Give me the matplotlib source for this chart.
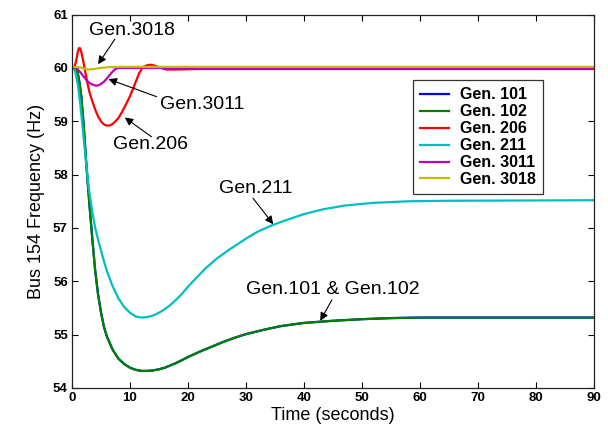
import numpy as np
import matplotlib
matplotlib.use('Agg')
import matplotlib.pyplot as plt

plt.rcParams['font.family'] = ['Liberation Sans', 'DejaVu Sans']

# values (time in s, frequency in Hz)
t_102 = [0, 0.7, 1.0, 1.3, 1.6, 2.0, 2.5, 3.0, 3.5, 4.0, 4.5, 5.0, 5.5, 6.0, 7.0, 8.0, 9.0, 10, 11, 12, 13,
         14, 15, 16, 18, 20, 22, 24, 26, 28, 30, 33, 36, 40, 45, 50, 55, 60, 90]
f_102 = [60, 59.98, 59.9, 59.72, 59.47, 58.95, 58.15, 57.45, 56.8, 56.2, 55.75, 55.42, 55.15, 54.97, 54.72,
         54.55, 54.45, 54.38, 54.34, 54.32, 54.32, 54.33, 54.35, 54.38, 54.47, 54.58, 54.68, 54.77, 54.86,
         54.94, 55.01, 55.09, 55.16, 55.22, 55.26, 55.29, 55.31, 55.32, 55.32]
t_101 = t_102
f_101 = f_102

t_206 = [0, 0.4, 0.7, 1.0, 1.2, 1.4, 1.6, 1.9, 2.2, 2.6, 3.0, 3.4, 4.0, 4.5, 5.0, 5.5, 6.0, 6.5, 7.0, 7.5,
         8.0, 8.5, 9.0, 9.5, 10.0, 10.5, 11.0, 11.5, 12.0, 12.5, 13.0, 13.5, 14.0, 14.6, 15.3, 16.3, 18, 22, 90]
f_206 = [60, 60.02, 60.12, 60.3, 60.37, 60.37, 60.3, 60.15, 59.98, 59.75, 59.55, 59.41, 59.22, 59.09, 59.0,
         58.94, 58.92, 58.92, 58.95, 59.0, 59.06, 59.15, 59.25, 59.36, 59.47, 59.6, 59.74, 59.88, 59.98,
         60.03, 60.05, 60.06, 60.05, 60.03, 60.0, 59.97, 59.97, 59.98, 59.98]

t_211 = [0, 0.5, 1.0, 1.5, 2.0, 2.5, 3.0, 3.5, 4.0, 4.5, 5.0, 5.5, 6.0, 6.5, 7.0, 8.0, 9.0, 10, 11, 12, 13,
         14, 15, 16, 17, 18, 19, 20, 21.4, 23, 25, 27.2, 30, 32, 34.7, 37, 40, 43.3, 47, 51.9, 58, 65, 90]
f_211 = [60, 59.96, 59.7, 59.25, 58.7, 58.15, 57.66, 57.3, 57.0, 56.78, 56.58, 56.38, 56.2, 56.05, 55.91,
         55.68, 55.52, 55.41, 55.34, 55.32, 55.33, 55.36, 55.41, 55.48, 55.56, 55.66, 55.77, 55.9, 56.06,
         56.24, 56.43, 56.6, 56.8, 56.93, 57.06, 57.15, 57.26, 57.35, 57.42, 57.47, 57.5, 57.51, 57.52]

t_3011 = [0, 0.5, 1.0, 1.5, 2.0, 2.5, 3.0, 3.5, 4.0, 4.5, 5.0, 5.5, 6.0, 6.5, 7.0, 7.5, 8.0, 90]
f_3011 = [60, 60.0, 59.97, 59.91, 59.84, 59.77, 59.72, 59.69, 59.67, 59.67, 59.7, 59.74, 59.8, 59.87,
          59.93, 59.98, 60.0, 60.0]

t_3018 = [0, 1.5, 2.2, 2.9, 3.8, 4.9, 7.0, 90]
f_3018 = [60.02, 60.01, 59.98, 59.97, 59.98, 60.0, 60.02, 60.02]

series = [('Gen. 101', t_101, f_101, (0, 0, 1)),
          ('Gen. 102', t_102, f_102, (0, 0.5, 0)),
          ('Gen. 206', t_206, f_206, (1, 0, 0)),
          ('Gen. 211', t_211, f_211, (0, 0.75, 0.75)),
          ('Gen. 3011', t_3011, f_3011, (0.75, 0, 0.75)),
          ('Gen. 3018', t_3018, f_3018, (0.75, 0.75, 0))]

fig = plt.figure(figsize=(6.08, 4.29), dpi=100)
ax = fig.add_axes([0.1184, 0.0956, 0.8586, 0.8704])

for name, t, f, c in series:
    ax.plot(t, f, color=c, lw=1.6, label=name)

ax.set_xlim(0, 90)
ax.set_ylim(54, 61)
ax.set_xticks(np.arange(0, 91, 10))
ax.set_yticks(np.arange(54, 62, 1))
ax.tick_params(direction='in', top=True, right=True, length=4, width=0.8,
               labelsize=9.5, pad=3)
for lab in ax.get_xticklabels() + ax.get_yticklabels():
    lab.set_fontweight('bold')
for s in ax.spines.values():
    s.set_linewidth(0.9)
    s.set_color('#222222')

ax.set_xlabel('Time (seconds)', fontsize=13, labelpad=2)
ax.set_ylabel('Bus 154 Frequency (Hz)', fontsize=13, labelpad=6)

leg = ax.legend(loc='upper left', bbox_to_anchor=(0.653, 0.824), borderaxespad=0,
                prop={'weight': 'bold', 'size': 11.5}, frameon=True, fancybox=False,
                edgecolor='black', handlelength=1.8, handletextpad=0.7,
                labelspacing=0.12, borderpad=0.45)
leg.get_frame().set_linewidth(0.9)

# annotations: (text, text pos, arrow tail, arrow head)
notes = [('Gen.3018', (10.3, 60.71), (7.4, 60.54), (4.5, 60.07)),
         ('Gen.3011', (22.4, 59.32), (14.6, 59.46), (6.3, 59.79)),
         ('Gen.206', (13.6, 58.57), (13.7, 58.71), (9.1, 59.07)),
         ('Gen.211', (31.6, 57.74), (31.2, 57.56), (34.7, 57.07)),
         ('Gen.101 & Gen.102', (44.9, 55.84), (44.8, 55.65), (42.8, 55.26))]
for txt, pos, tail, head in notes:
    ax.text(pos[0], pos[1], txt, fontsize=14, ha='center', va='center')
    ax.annotate('', xy=head, xytext=tail,
                arrowprops=dict(arrowstyle='-|>', color='black', lw=0.8,
                                mutation_scale=12, shrinkA=0, shrinkB=0))

fig.savefig('out.png', dpi=100)
